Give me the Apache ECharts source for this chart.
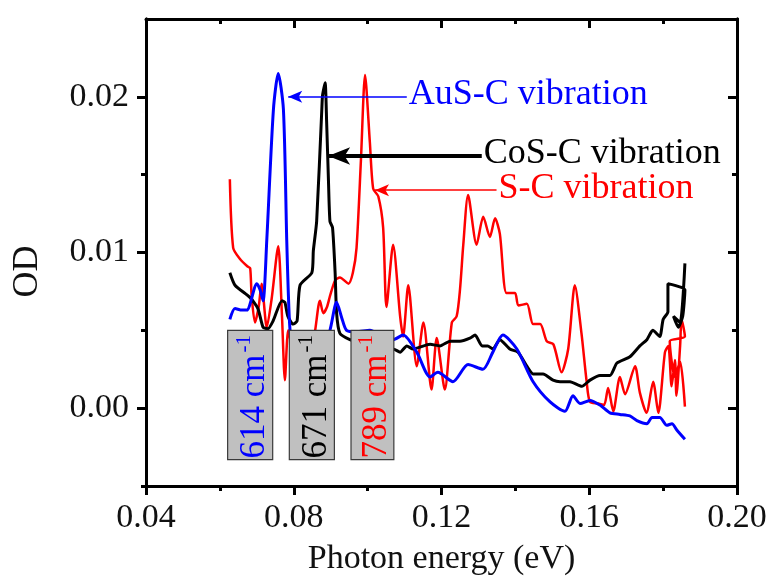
<!DOCTYPE html>
<html>
<head>
<meta charset="utf-8">
<script src="https://cdn.jsdelivr.net/npm/echarts@6/dist/echarts.min.js"></script>
<style>
  html, body { margin: 0; padding: 0; background: #fff; }
  #chart { width: 773px; height: 581px; }
</style>
</head>
<body>
<div id="chart"></div>
<script>
// Infrared absorbance spectra: photon energy (eV) vs optical density
const ausSpectrum = [
  [0.0627,0.0057],[0.0641,0.0064],[0.0660,0.0063],[0.0673,0.0063],[0.0700,0.0080],[0.0709,0.0076],
  [0.0717,0.0069],[0.0727,0.0108],[0.0745,0.0192],[0.0758,0.0215],[0.0772,0.0192],[0.0781,0.0108],
  [0.0785,0.0076],[0.0790,0.0050],[0.0800,0.0035],[0.0840,0.0030],[0.0880,0.0040],[0.0898,0.0050],
  [0.0916,0.0068],[0.0930,0.0058],[0.0943,0.0050],[0.0970,0.0049],[0.1006,0.0050],[0.1040,0.0046],
  [0.1069,0.0044],[0.1096,0.0047],[0.1133,0.0036],[0.1169,0.0020],[0.1190,0.0023],[0.1231,0.0017],
  [0.1272,0.0028],[0.1312,0.0025],[0.1339,0.0036],[0.1366,0.0047],[0.1404,0.0038],[0.1448,0.0017],
  [0.1494,0.0004],[0.1534,-0.0002],[0.1556,0.0008],[0.1575,0.0003],[0.1602,0.0005],[0.1629,0.0002],
  [0.1656,-0.0003],[0.1683,-0.0004],[0.1710,-0.0005],[0.1729,-0.0008],[0.1756,-0.0010],[0.1770,-0.0006],
  [0.1791,-0.0006],[0.1810,-0.0011],[0.1824,-0.0010],[0.1837,-0.0014],[0.1859,-0.0020]
];

const cosSpectrum = [
  [0.0627,0.0087],[0.0641,0.0079],[0.0682,0.0071],[0.0703,0.0064],[0.0717,0.0052],[0.0730,0.0051],
  [0.0744,0.0056],[0.0768,0.0069],[0.0776,0.0068],[0.0784,0.0059],[0.0798,0.0054],[0.0809,0.0056],
  [0.0817,0.0079],[0.0849,0.0087],[0.0853,0.0101],[0.0862,0.0120],[0.0876,0.0192],[0.0878,0.0201],
  [0.0885,0.0209],[0.0889,0.0184],[0.0894,0.0146],[0.0898,0.0120],[0.0905,0.0116],[0.0912,0.0087],
  [0.0916,0.0061],[0.0925,0.0048],[0.0952,0.0044],[0.1000,0.0040],[0.1040,0.0038],[0.1069,0.0038],
  [0.1088,0.0036],[0.1106,0.0040],[0.1123,0.0038],[0.1169,0.0041],[0.1196,0.0040],[0.1223,0.0043],
  [0.1250,0.0043],[0.1277,0.0045],[0.1291,0.0047],[0.1310,0.0040],[0.1325,0.0040],[0.1339,0.0038],
  [0.1358,0.0044],[0.1385,0.0038],[0.1407,0.0036],[0.1431,0.0027],[0.1448,0.0022],[0.1475,0.0022],
  [0.1502,0.0018],[0.1521,0.0017],[0.1548,0.0017],[0.1580,0.0014],[0.1602,0.0018],[0.1629,0.0021],
  [0.1656,0.0021],[0.1675,0.0029],[0.1710,0.0033],[0.1737,0.0040],[0.1756,0.0044],[0.1772,0.0050],
  [0.1791,0.0046],[0.1800,0.0057],[0.1813,0.0062],[0.1813,0.0080],[0.1859,0.0076],[0.1853,0.0059],
  [0.1841,0.0052],[0.1828,0.0059],[0.1846,0.0055],[0.1859,0.0093]
];

const scSpectrum = [
  [0.0627,0.0147],[0.0636,0.0103],[0.0654,0.0096],[0.0675,0.0091],[0.0682,0.0090],[0.0686,0.0072],
  [0.0695,0.0055],[0.0705,0.0065],[0.0713,0.0080],[0.0727,0.0052],[0.0740,0.0070],[0.0758,0.0104],
  [0.0768,0.0060],[0.0776,0.0018],[0.0785,0.0050],[0.0795,0.0040],[0.0815,0.0030],[0.0850,0.0040],
  [0.0871,0.0069],[0.0880,0.0061],[0.0890,0.0065],[0.0898,0.0072],[0.0912,0.0082],[0.0925,0.0084],
  [0.0948,0.0080],[0.0960,0.0087],[0.0970,0.0103],[0.0982,0.0160],[0.0993,0.0214],[0.1006,0.0171],
  [0.1015,0.0141],[0.1029,0.0136],[0.1042,0.0116],[0.1051,0.0065],[0.1069,0.0105],[0.1088,0.0059],
  [0.1096,0.0046],[0.1110,0.0079],[0.1133,0.0027],[0.1151,0.0055],[0.1173,0.0012],[0.1187,0.0045],
  [0.1209,0.0012],[0.1228,0.0055],[0.1241,0.0059],[0.1250,0.0076],[0.1259,0.0105],[0.1272,0.0137],
  [0.1295,0.0105],[0.1313,0.0123],[0.1331,0.0110],[0.1345,0.0122],[0.1358,0.0112],[0.1376,0.0074],
  [0.1399,0.0074],[0.1408,0.0066],[0.1431,0.0067],[0.1448,0.0054],[0.1467,0.0054],[0.1485,0.0043],
  [0.1503,0.0041],[0.1525,0.0023],[0.1543,0.0038],[0.1561,0.0079],[0.1579,0.0048],[0.1593,0.0017],
  [0.1602,0.0004],[0.1624,0.0003],[0.1640,0.0002],[0.1651,0.0013],[0.1665,-0.0002],[0.1683,0.0020],
  [0.1697,0.0009],[0.1724,0.0027],[0.1737,0.0010],[0.1755,-0.0003],[0.1773,0.0017],[0.1787,-0.0003],
  [0.1805,0.0036],[0.1814,0.0040],[0.1823,0.0014],[0.1832,0.0031],[0.1836,0.0008],[0.1846,0.0040],
  [0.1850,0.0057],[0.1859,0.0046],[0.1818,0.0043],[0.1832,0.0020],[0.1846,0.0030],[0.1859,0.0001]
];

// Axis tick values
const yLabelTicks = [0, 0.01, 0.02];
const yMinorTicks = [-0.005, 0.005, 0.015];

// Vibration-mode annotations: label, arrow tip energy, arrow tail energy, arrow height
const modeNames = ['AuS-C vibration', 'CoS-C vibration', 'S-C vibration'];
const arrowTips = [0.0785, 0.0893, 0.1020];
const arrowTails = [0.1106, 0.1309, 0.1349];
const arrowLevels = [0.0200, 0.0162, 0.0140];

// Wavenumber boxes: text, energy span, OD span
const boxTexts = ['614', '671', '789'];
const boxSpans = [[0.0621, 0.0743], [0.0788, 0.0910], [0.0955, 0.1071]];
const boxLevels = [-0.0033, 0.0050];

const seriesColors = ['#0000ff', '#000000', '#ff0000'];
const FONT = "'Liberation Serif', 'Times New Roman', serif";

const chart = echarts.init(document.getElementById('chart'), null, { renderer: 'canvas' });

function arrowLine(i, width, size) {
  return {
    silent: true,
    symbol: ['arrow', 'none'],
    symbolSize: size,
    lineStyle: { color: seriesColors[i], width: width, type: 'solid' },
    label: { show: false },
    emphasis: { disabled: true },
    data: [[
      { coord: [arrowTips[i], arrowLevels[i]] },
      { coord: [arrowTails[i], arrowLevels[i]] }
    ]]
  };
}

const axisLineStyle = { color: '#000', width: 3 };
const tickStyle = { width: 3, color: '#000' };
const baseY = {
  type: 'value', min: -0.005, max: 0.025,
  splitLine: { show: false },
  axisLine: { show: true, lineStyle: axisLineStyle, onZero: false }
};

const option = {
  animation: false,
  backgroundColor: '#fff',
  grid: { left: 146, right: 36, top: 19, bottom: 94 },
  xAxis: [
    {
      type: 'value', min: 0.04, max: 0.20, interval: 0.04, position: 'bottom',
      name: 'Photon energy (eV)', nameLocation: 'middle', nameGap: 56,
      nameTextStyle: { fontFamily: FONT, fontSize: 34, color: '#111' },
      axisLine: { show: true, lineStyle: axisLineStyle, onZero: false },
      axisTick: { show: true, length: 9, lineStyle: tickStyle },
      minorTick: { show: true, splitNumber: 2, length: 5, lineStyle: tickStyle },
      axisLabel: { fontFamily: FONT, fontSize: 34, color: '#111', margin: 15,
        formatter: v => v.toFixed(2) },
      splitLine: { show: false }
    },
    {
      type: 'value', min: 0.04, max: 0.20, interval: 0.04, position: 'top',
      axisLine: { show: true, lineStyle: axisLineStyle, onZero: false },
      axisTick: { show: true, inside: true, length: 9, lineStyle: tickStyle },
      minorTick: { show: true, splitNumber: 2, length: 5, lineStyle: tickStyle },
      axisLabel: { show: false },
      splitLine: { show: false }
    }
  ],
  yAxis: [
    Object.assign({}, baseY, {
      position: 'left',
      name: 'OD', nameLocation: 'middle', nameGap: 100,
      nameTextStyle: { fontFamily: FONT, fontSize: 36, color: '#111', padding: [0, 38, 0, 0] },
      axisTick: { show: true, length: 9, customValues: yLabelTicks, lineStyle: tickStyle },
      axisLabel: { fontFamily: FONT, fontSize: 34, color: '#111', margin: 17,
        customValues: yLabelTicks, formatter: v => v.toFixed(2) }
    }),
    Object.assign({}, baseY, {
      position: 'left',
      axisTick: { show: true, length: 5, customValues: yMinorTicks, lineStyle: tickStyle },
      axisLabel: { show: false }
    }),
    Object.assign({}, baseY, {
      position: 'right',
      axisTick: { show: true, inside: true, length: 9, customValues: yLabelTicks, lineStyle: tickStyle },
      axisLabel: { show: false }
    }),
    Object.assign({}, baseY, {
      position: 'right',
      axisTick: { show: true, inside: true, length: 5, customValues: yMinorTicks, lineStyle: tickStyle },
      axisLabel: { show: false }
    })
  ],
  series: [
    {
      name: 'S-C', type: 'line', data: scSpectrum, showSymbol: false, smooth: 0.25,
      lineStyle: { color: seriesColors[2], width: 2.5 }, z: 3,
      markLine: arrowLine(2, 1.5, [9, 14])
    },
    {
      name: 'CoS-C', type: 'line', data: cosSpectrum, showSymbol: false, smooth: 0.2,
      lineStyle: { color: seriesColors[1], width: 3 }, z: 4,
      markLine: arrowLine(1, 4, [13, 22])
    },
    {
      name: 'AuS-C', type: 'line', data: ausSpectrum, showSymbol: false, smooth: 0.25,
      lineStyle: { color: seriesColors[0], width: 3 }, z: 5,
      markLine: arrowLine(0, 1.5, [9, 14])
    },
    {
      // mode names written just past each arrow's tail
      name: 'modes', type: 'custom', z: 8, silent: true,
      data: arrowTails.map((x, i) => [x, arrowLevels[i]]),
      renderItem: function (params, api) {
        const p = api.coord([api.value(0), api.value(1)]);
        const i = params.dataIndex;
        return {
          type: 'text', x: p[0] + 2, y: p[1] - 2,
          style: {
            text: modeNames[i], fill: seriesColors[i],
            font: '36px ' + FONT, align: 'left', verticalAlign: 'middle'
          }
        };
      }
    },
    {
      name: 'wavenumbers', type: 'custom', z: 10, silent: true,
      data: boxSpans.map(s => [s[0], s[1], boxLevels[0], boxLevels[1]]),
      encode: { x: [0, 1], y: [2, 3] },
      renderItem: function (params, api) {
        const tl = api.coord([api.value(0), api.value(3)]);
        const br = api.coord([api.value(1), api.value(2)]);
        const i = params.dataIndex;
        const cx = (tl[0] + br[0]) / 2;
        return {
          type: 'group',
          children: [
            {
              type: 'rect',
              shape: { x: tl[0], y: tl[1], width: br[0] - tl[0], height: br[1] - tl[1] },
              style: { fill: '#c0c0c0', stroke: '#3a3a3a', lineWidth: 1.2 }
            },
            {
              type: 'text', x: cx + 3, y: br[1] - 1, rotation: Math.PI / 2,
              style: {
                text: '{n|' + boxTexts[i] + ' cm}{s|-1}',
                align: 'left', verticalAlign: 'middle',
                rich: {
                  n: { fontFamily: FONT, fontSize: 35, fill: seriesColors[i], lineHeight: 38, verticalAlign: 'bottom' },
                  s: { fontFamily: FONT, fontSize: 21, fill: seriesColors[i], verticalAlign: 'top', padding: [0, 0, 0, 2] }
                }
              }
            }
          ]
        };
      }
    }
  ]
};

chart.setOption(option);
</script>
</body>
</html>
